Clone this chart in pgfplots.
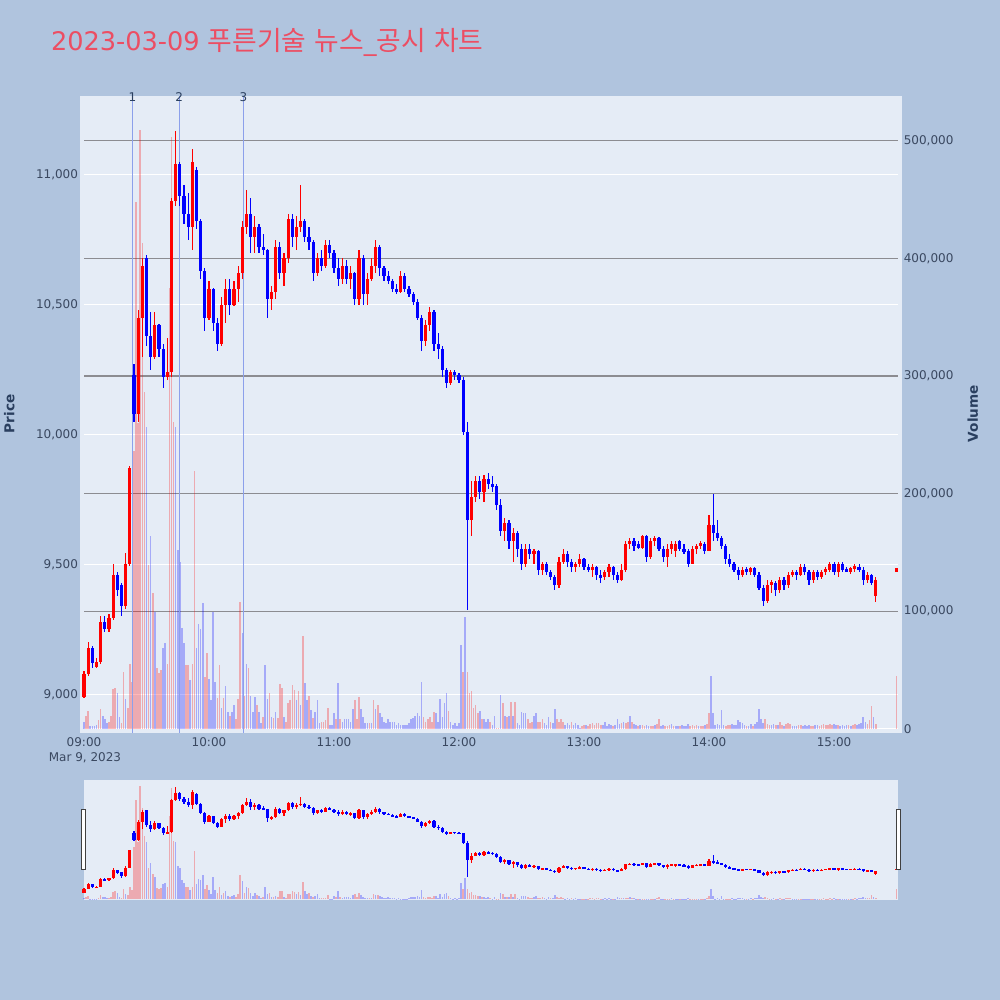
\documentclass[border=0pt]{standalone}
\usepackage{pgfplots}
\pgfplotsset{compat=1.18}
\usepackage{pgfplotstable}
\usepackage{fontspec}
\setmainfont{DejaVu Sans}
\newfontfamily\krfont{Noto Sans CJK KR}
\newcommand\kt[1]{{\krfont\fontsize{13.4}{15}\selectfont #1}}

\definecolor{pagebg}{RGB}{176,196,222}
\definecolor{plotbg}{RGB}{229,236,246}
\definecolor{txt}{RGB}{42,63,95}
\definecolor{tickc}{RGB}{58,72,96}
\definecolor{titlec}{RGB}{236,78,99}
\definecolor{vgrid}{RGB}{140,140,145}
\definecolor{markc}{RGB}{140,160,235}
\definecolor{candr}{RGB}{255,0,0}
\definecolor{candb}{RGB}{0,0,255}

\newcommand\tickfont{\fontsize{6}{7}\selectfont}

% candles (t = minutes after 09:00): open high low close
\pgfplotstableread{
t o h l c
0 8990 9090 8985 9080
2 9080 9200 9070 9180
4 9180 9185 9100 9120
6 9105 9140 9100 9125
8 9125 9300 9115 9280
10 9280 9300 9240 9250
12 9250 9310 9240 9295
14 9295 9500 9285 9460
16 9460 9470 9380 9400
18 9420 9430 9300 9340
20 9340 9545 9330 9500
22 9500 9880 9495 9870
24 10230 10270 10050 10080
26 10080 10480 10050 10450
28 10450 10680 10300 10650
30 10680 10690 10340 10380
32 10380 10470 10250 10300
34 10300 10470 10290 10420
36 10420 10425 10300 10330
38 10330 10350 10180 10220
40 10220 10370 10210 10240
42 10240 10910 10220 10900
44 10900 11170 10880 11040
46 11040 11050 10880 10920
48 10920 10960 10810 10850
50 10850 10930 10750 10800
52 10800 11100 10710 11050
54 11020 11030 10790 10820
56 10820 10830 10600 10630
58 10630 10640 10400 10450
60 10450 10590 10440 10560
62 10560 10565 10400 10430
64 10430 10450 10320 10350
66 10350 10530 10340 10500
68 10500 10600 10430 10560
70 10560 10600 10460 10500
72 10500 10590 10495 10560
74 10560 10650 10510 10620
76 10620 10820 10600 10800
78 10800 10940 10770 10850
80 10850 10910 10700 10760
82 10760 10840 10700 10800
84 10800 10810 10700 10720
86 10720 10770 10690 10710
88 10710 10715 10450 10520
90 10520 10570 10480 10550
92 10550 10750 10520 10720
94 10720 10740 10600 10620
96 10620 10700 10570 10680
98 10680 10850 10660 10830
100 10830 10850 10720 10760
102 10760 10840 10710 10800
104 10800 10960 10780 10820
106 10820 10830 10740 10760
108 10760 10800 10710 10740
110 10740 10750 10590 10620
112 10620 10700 10610 10680
114 10680 10710 10630 10650
116 10650 10750 10640 10730
118 10730 10750 10680 10700
120 10700 10710 10620 10640
122 10640 10680 10570 10600
124 10600 10680 10580 10650
126 10650 10670 10580 10600
128 10600 10650 10560 10620
130 10620 10625 10500 10520
132 10520 10710 10500 10680
134 10680 10690 10500 10540
136 10540 10620 10500 10600
138 10600 10680 10590 10650
140 10650 10750 10620 10720
142 10720 10730 10610 10640
144 10640 10650 10590 10610
146 10610 10630 10580 10590
148 10590 10600 10550 10560
150 10560 10580 10540 10550
152 10550 10630 10545 10610
154 10610 10620 10550 10560
156 10560 10570 10530 10540
158 10540 10550 10500 10510
160 10510 10520 10440 10450
162 10450 10460 10320 10360
164 10360 10440 10340 10420
166 10420 10490 10400 10470
168 10470 10480 10320 10350
170 10350 10390 10290 10330
172 10330 10340 10220 10250
174 10250 10255 10180 10200
176 10200 10250 10190 10240
178 10240 10250 10210 10230
180 10230 10235 10200 10210
182 10210 10220 10000 10010
184 10010 10050 9324 9670
186 9670 9820 9610 9760
188 9760 9840 9740 9820
190 9820 9840 9750 9780
192 9780 9845 9740 9830
194 9830 9850 9790 9810
196 9810 9840 9780 9800
198 9800 9810 9710 9730
200 9730 9750 9610 9630
202 9630 9680 9590 9660
204 9660 9670 9560 9590
206 9590 9640 9510 9620
208 9620 9630 9530 9560
210 9560 9580 9480 9500
212 9500 9580 9490 9560
214 9560 9580 9520 9540
216 9540 9560 9500 9550
218 9550 9555 9460 9480
220 9480 9510 9460 9500
222 9500 9510 9460 9470
224 9470 9480 9440 9450
226 9450 9460 9400 9420
228 9420 9530 9410 9510
230 9510 9560 9500 9540
232 9540 9550 9490 9510
234 9510 9520 9470 9490
236 9490 9510 9470 9500
238 9500 9540 9490 9520
240 9520 9525 9480 9490
242 9490 9500 9470 9480
244 9480 9500 9450 9490
246 9490 9495 9440 9460
248 9460 9480 9430 9450
250 9450 9480 9440 9470
252 9470 9500 9450 9490
254 9490 9495 9440 9460
256 9460 9470 9430 9440
258 9440 9500 9435 9480
260 9480 9590 9470 9580
262 9580 9600 9560 9590
264 9590 9600 9550 9570
266 9580 9590 9560 9565
268 9565 9615 9560 9610
270 9610 9615 9510 9530
272 9530 9600 9520 9590
274 9590 9610 9570 9600
276 9600 9605 9550 9560
278 9560 9570 9510 9530
280 9530 9580 9490 9560
282 9560 9590 9540 9580
284 9550 9590 9530 9580
286 9590 9595 9550 9560
288 9560 9580 9540 9550
290 9550 9560 9490 9500
292 9500 9570 9500 9560
294 9560 9580 9540 9570
296 9570 9590 9560 9580
298 9580 9585 9540 9550
300 9550 9690 9550 9650
302 9650 9770 9590 9620
304 9620 9670 9590 9600
306 9600 9610 9560 9570
308 9570 9580 9500 9520
310 9520 9540 9490 9500
312 9500 9510 9470 9480
314 9480 9490 9440 9460
316 9460 9490 9450 9480
318 9480 9490 9460 9470
320 9470 9490 9460 9485
322 9485 9490 9450 9460
324 9460 9470 9400 9410
326 9410 9420 9340 9360
328 9360 9440 9350 9420
330 9420 9440 9390 9430
332 9430 9435 9380 9400
334 9400 9450 9390 9440
336 9440 9450 9400 9420
338 9420 9470 9410 9460
340 9460 9480 9450 9470
342 9470 9480 9440 9460
344 9460 9500 9455 9490
346 9490 9500 9460 9470
348 9470 9480 9420 9440
350 9440 9480 9430 9470
352 9470 9480 9440 9450
354 9450 9480 9445 9470
356 9470 9490 9460 9480
358 9480 9510 9470 9500
360 9500 9510 9460 9470
362 9470 9510 9450 9500
364 9500 9510 9470 9480
366 9480 9490 9470 9472
368 9472 9490 9465 9485
370 9485 9500 9470 9490
372 9490 9500 9470 9480
374 9480 9490 9420 9440
376 9440 9470 9430 9460
378 9460 9465 9420 9430
380 9380 9450 9355 9440
390 9475 9485 9475 9482
}\candles

% volume per minute (thousands), d = 1 up (red), 0 down (blue)
\pgfplotstableread{
t v d
0 6 0
1 11 1
2 15 1
3 2 0
4 2 0
5 2 0
6 3 0
7 7 1
8 17 1
9 11 0
10 8 0
11 5 0
12 6 1
13 11 1
14 34 1
15 35 1
16 30 0
17 10 0
18 5 1
19 48 1
20 25 0
21 18 1
22 55 1
23 40 1
24 236 1
25 448 1
26 260 1
27 509 1
28 413 1
29 286 1
30 257 0
31 139 1
32 164 0
33 115 1
34 99 0
35 52 1
36 47 1
37 50 1
38 69 0
39 73 0
40 55 1
41 375 1
42 503 1
43 261 1
44 257 0
45 152 0
46 142 0
47 86 0
48 73 0
49 54 1
50 54 1
51 41 0
52 55 1
53 219 1
54 69 0
55 89 0
56 85 0
57 107 0
58 44 1
59 64 1
60 42 0
61 24 0
62 99 0
63 40 0
64 26 1
65 54 1
66 18 0
67 26 1
68 36 0
69 14 0
70 11 1
71 14 0
72 20 0
73 8 1
74 25 1
75 108 1
76 81 0
77 28 1
78 55 0
79 52 1
80 28 0
81 14 0
82 27 0
83 20 1
84 14 0
85 5 0
86 10 1
87 54 0
88 25 0
89 30 1
90 10 0
91 9 1
92 14 0
93 9 1
94 38 1
95 35 1
96 10 0
97 6 1
98 22 1
99 24 1
100 37 1
101 33 1
102 24 0
103 32 1
104 20 0
105 79 1
106 39 0
107 24 0
108 28 1
109 16 0
110 9 1
111 14 0
112 24 0
113 5 0
114 6 1
115 6 1
116 7 1
117 18 1
118 3 0
119 3 0
120 13 0
121 8 1
122 39 0
123 8 1
124 6 0
125 8 0
126 8 0
127 8 0
128 6 0
129 17 0
130 24 1
131 8 1
132 27 1
133 17 0
134 10 0
135 5 0
136 5 0
137 5 1
138 5 0
139 24 1
140 17 0
141 20 1
142 13 0
143 10 0
144 6 0
145 5 0
146 8 0
147 6 0
148 6 0
149 6 0
150 3 0
151 5 0
152 3 0
153 3 0
154 3 0
155 3 0
156 5 0
157 8 0
158 9 0
159 11 0
160 13 0
161 11 0
162 40 0
163 10 1
164 6 1
165 8 1
166 10 1
167 6 1
168 14 1
169 13 0
170 6 0
171 25 0
172 10 0
173 22 0
174 30 0
175 15 1
176 6 0
177 3 0
178 5 0
179 2 0
180 5 0
181 71 0
182 48 1
183 95 0
184 48 1
185 30 1
186 32 1
187 18 1
188 20 1
189 13 1
190 15 0
191 8 1
192 8 0
193 6 0
194 8 0
195 6 1
196 3 0
197 11 0
198 1 1
199 1 1
200 29 0
201 22 1
202 11 0
203 10 1
204 11 0
205 23 1
206 11 0
207 23 1
208 5 0
209 3 0
210 14 0
211 13 0
212 13 0
213 8 1
214 5 1
215 6 1
216 11 0
217 13 0
218 6 1
219 6 1
220 8 1
221 5 0
222 3 0
223 10 0
224 6 1
225 5 0
226 17 0
227 8 1
228 6 1
229 8 1
230 6 1
231 3 0
232 5 0
233 3 0
234 6 1
235 3 0
236 5 0
237 3 0
238 1 0
239 2 1
240 3 1
241 3 0
242 2 1
243 4 1
244 5 1
245 3 1
246 5 1
247 5 1
248 3 1
249 3 0
250 6 0
251 2 0
252 4 0
253 3 0
254 2 1
255 3 0
256 8 0
257 4 0
258 5 1
259 6 0
260 5 1
261 6 1
262 11 0
263 6 1
264 4 0
265 3 0
266 2 1
267 3 0
268 3 1
269 2 1
270 3 0
271 2 0
272 2 1
273 2 1
274 3 0
275 4 1
276 8 1
277 2 0
278 3 0
279 2 1
280 2 1
281 3 1
282 4 0
283 2 1
284 2 0
285 2 0
286 2 1
287 3 0
288 2 0
289 2 0
290 4 0
291 2 1
292 3 1
293 2 1
294 3 1
295 2 0
296 2 1
297 2 1
298 3 0
299 4 1
300 13 1
301 45 0
302 13 0
303 3 0
304 4 0
305 3 0
306 16 0
307 3 0
308 2 1
309 3 1
310 3 1
311 4 0
312 3 0
313 3 0
314 7 0
315 6 0
316 5 0
317 3 0
318 2 1
319 2 0
320 4 0
321 2 1
322 4 0
323 6 0
324 17 0
325 8 0
326 5 0
327 8 1
328 4 1
329 3 1
330 3 0
331 4 0
332 3 1
333 3 0
334 6 1
335 3 1
336 2 0
337 4 1
338 5 1
339 4 1
340 2 0
341 2 0
342 2 0
343 3 1
344 3 1
345 2 0
346 3 0
347 2 0
348 3 0
349 2 1
350 2 1
351 3 0
352 3 0
353 2 1
354 3 1
355 4 1
356 3 1
357 3 1
358 4 1
359 3 1
360 4 0
361 3 0
362 3 1
363 2 0
364 3 0
365 2 0
366 3 0
367 3 1
368 2 0
369 3 1
370 4 1
371 3 0
372 4 0
373 5 0
374 10 0
375 6 0
376 4 1
377 7 1
378 19 1
379 10 0
380 4 1
390 45 1
}\vols

\pgfplotsset{
  chartbase/.style={scale only axis, width=407pt, xmin=0, xmax=390.7,
    anchor=south west, clip=false, axis line style={draw=none},
    major tick length=0pt, scaled ticks=false, xtick=\empty, ytick=\empty},
  upsel/.style={restrict expr to domain={\thisrow{c}-\thisrow{o}}{0:100000}},
  dnsel/.style={restrict expr to domain={\thisrow{c}-\thisrow{o}}{-100000:-0.001}},
  volup/.style={restrict expr to domain={\thisrow{d}}{0.5:1.5}},
  voldn/.style={restrict expr to domain={\thisrow{d}}{-0.5:0.5}},
}

\newcommand\candleplots{%
  \addplot[draw=none, mark=none, upsel, error bars/.cd, y dir=both, y explicit,
    error mark=none, error bar style={draw=candr, line width=0.55pt}]
    table[x=t, y expr={(\thisrow{h}+\thisrow{l})/2}, y error expr={(\thisrow{h}-\thisrow{l})/2}]{\candles};
  \addplot[draw=none, mark=none, dnsel, error bars/.cd, y dir=both, y explicit,
    error mark=none, error bar style={draw=candb, line width=0.55pt}]
    table[x=t, y expr={(\thisrow{h}+\thisrow{l})/2}, y error expr={(\thisrow{h}-\thisrow{l})/2}]{\candles};
  \addplot[draw=none, mark=none, upsel, error bars/.cd, y dir=both, y explicit,
    error mark=none, error bar style={draw=candr, line width=1.6pt}]
    table[x=t, y expr={(\thisrow{o}+\thisrow{c})/2}, y error expr={max(abs(\thisrow{c}-\thisrow{o})/2,6)}]{\candles};
  \addplot[draw=none, mark=none, dnsel, error bars/.cd, y dir=both, y explicit,
    error mark=none, error bar style={draw=candb, line width=1.6pt}]
    table[x=t, y expr={(\thisrow{o}+\thisrow{c})/2}, y error expr={max(abs(\thisrow{c}-\thisrow{o})/2,6)}]{\candles};
}
\newcommand\volplots{%
  \addplot[ycomb, mark=none, draw=red, draw opacity=0.28, line width=0.8pt, volup]
    table[x=t, y expr={\thisrow{v}*1000}]{\vols};
  \addplot[ycomb, mark=none, draw=blue, draw opacity=0.28, line width=0.8pt, voldn]
    table[x=t, y expr={\thisrow{v}*1000}]{\vols};
}

\begin{document}
\begin{tikzpicture}[x=1pt,y=1pt]
\useasboundingbox (0,0) rectangle (500,500);
\fill[pagebg] (0,0) rectangle (500,500);
\fill[plotbg] (40,133.5) rectangle (451,452);
\fill[plotbg] (42,50) rectangle (449,110);

% title
\node[anchor=base west, inner sep=0pt, text=titlec,
  font=\fontsize{12.8}{15}\selectfont] at (25.3,474.6)
  {2023-03-09 \kt{푸른기술} \kt{뉴스}\_\kt{공시} \kt{차트}};

% price axis: grid and labels
\begin{axis}[chartbase, at={(42pt,133.5pt)}, height=318.5pt,
  ymin=8851, ymax=11303,
  ytick={9000,9500,10000,10500,11000},
  ymajorgrids, major grid style={draw=white, line width=0.55pt},
  xtick={0,60,120,180,240,300,360},
  xticklabels={09:00,10:00,11:00,12:00,13:00,14:00,15:00},
  xticklabel style={font=\tickfont, text=tickc, inner sep=0pt, yshift=-1.9pt},
  yticklabel style={font=\tickfont, text=tickc, inner sep=0pt, anchor=east, xshift=-2.8pt},
  /pgf/number format/fixed, /pgf/number format/precision=0,
  /pgf/number format/1000 sep={,}, /pgf/number format/assume math mode=true]
\end{axis}

% volume axis (right)
\begin{axis}[chartbase, at={(42pt,133.5pt)}, height=318.5pt,
  ymin=-3658, ymax=538200,
  ytick={100000,200000,300000,400000,500000},
  extra y ticks={0},
  extra y tick style={major grid style={draw=white, line width=0.6pt}},
  yticklabel pos=right,
  ymajorgrids, major grid style={draw=vgrid, line width=0.55pt},
  yticklabel style={font=\tickfont, text=tickc, inner sep=0pt, anchor=west, xshift=2.7pt},
  /pgf/number format/fixed, /pgf/number format/precision=0,
  /pgf/number format/1000 sep={,}, /pgf/number format/assume math mode=true]
\volplots
\end{axis}

% price axis: candles and news markers
\begin{axis}[chartbase, at={(42pt,133.5pt)}, height=318.5pt,
  ymin=8851, ymax=11303]
\addplot[draw=markc, line width=0.55pt] coordinates {(23.2,8851) (23.2,11303)};
\addplot[draw=markc, line width=0.55pt] coordinates {(45.7,8851) (45.7,11303)};
\addplot[draw=markc, line width=0.55pt] coordinates {(76.5,8851) (76.5,11303)};
\candleplots
\node[font=\tickfont, text=txt, inner sep=0pt] at (axis cs:23.2,11300) {1};
\node[font=\tickfont, text=txt, inner sep=0pt] at (axis cs:45.7,11300) {2};
\node[font=\tickfont, text=txt, inner sep=0pt] at (axis cs:76.5,11300) {3};
\end{axis}

% range slider
\begin{axis}[chartbase, at={(42pt,50pt)}, height=60pt,
  ymin=-3658, ymax=538200]
\volplots
\end{axis}
\begin{axis}[chartbase, at={(42pt,50pt)}, height=60pt,
  ymin=8851, ymax=11303]
\candleplots
\end{axis}
\draw[fill=white, draw=black!75, line width=0.5pt] (40.85,65) rectangle (42.85,95);
\draw[fill=white, draw=black!75, line width=0.5pt] (448.15,65) rectangle (450.15,95);

% axis titles and date
\node[font=\tickfont, text=tickc] at (42.5,121.25) {Mar 9, 2023};
\node[rotate=90, font=\bfseries\fontsize{6.8}{8}\selectfont, text=txt] at (4.6,293) {Price};
\node[rotate=90, font=\bfseries\fontsize{6.8}{8}\selectfont, text=txt] at (486.4,293.2) {Volume};
\end{tikzpicture}
\end{document}
